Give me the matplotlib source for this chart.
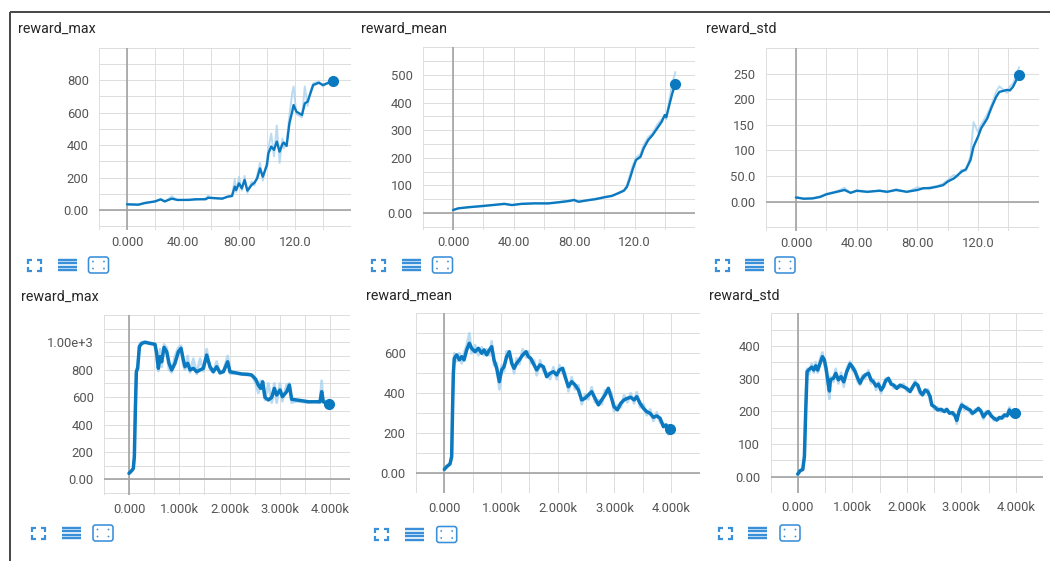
import matplotlib
matplotlib.use("Agg")
import matplotlib.pyplot as plt
from matplotlib.patches import FancyBboxPatch, Circle

# ---------------- data ----------------
# top row: steps 0..147
p1_x = [0, 8, 13, 20, 24, 27, 32, 36, 44, 49, 56, 58, 61, 68, 72, 75, 77, 78, 80, 82,
        84, 86, 89, 91, 93, 95, 97, 100, 101, 103, 105, 107, 109, 111, 112, 114, 116, 118, 119, 121,
        125, 127, 129, 131, 133, 137, 140, 144, 147]
p1_smooth = [35, 33, 43, 53, 65, 53, 70, 62, 62, 66, 66, 75, 74, 70, 82, 86, 144, 123, 164, 133,
             185, 119, 154, 168, 195, 256, 205, 277, 349, 390, 370, 421, 359, 406, 415, 394, 533, 605, 646, 605,
             585, 656, 667, 718, 769, 783, 769, 783, 791]
p1_raw = [35, 30, 46, 50, 70, 50, 85, 60, 64, 63, 70, 88, 72, 68, 84, 90, 190, 110, 205, 120,
          210, 105, 175, 150, 215, 290, 180, 310, 380, 470, 330, 520, 290, 440, 380, 420, 580, 720, 760, 590,
          570, 760, 640, 730, 780, 790, 760, 790, 795]

p2_x = [0, 3.5, 10, 19, 28, 34, 39, 45, 54, 63, 70, 76, 80, 83, 90, 94, 100, 105, 109, 113,
        115, 117, 119, 121, 124, 126, 129, 132, 135, 138, 140, 141, 143, 145, 147]
p2_smooth = [11, 17, 21, 25, 30, 33, 29, 33, 35, 35, 39, 43, 47, 41, 47, 50, 57, 62, 71, 81,
             95, 126, 162, 192, 204, 234, 264, 283, 307, 331, 355, 347, 391, 434, 467]
p2_raw = [10, 18, 20, 27, 29, 35, 28, 34, 36, 34, 40, 45, 49, 40, 48, 52, 58, 63, 73, 84,
          100, 140, 175, 200, 215, 245, 275, 290, 320, 340, 350, 340, 410, 470, 510]

p3_x = [0, 5, 11, 16, 20, 27, 32, 36, 40, 47, 55, 60, 66, 73, 80, 84, 88, 93, 97, 100,
        104, 106, 109, 112, 115, 117, 120, 122, 126, 129, 132, 134, 139, 141, 143, 147]
p3_smooth = [8, 5.5, 6, 9, 14, 19, 22.5, 17, 21, 19, 21, 19, 22.5, 19, 22.5, 26, 26, 29, 32, 39,
             45, 50, 58, 63, 81, 107, 127, 143, 162, 185, 205, 214, 218, 217, 224, 248]
p3_raw = [9, 5, 7, 10, 15, 20, 27, 16, 22, 18, 22, 18, 24, 18, 28, 25, 28, 30, 35, 42,
          52, 48, 62, 60, 90, 155, 135, 150, 170, 190, 215, 225, 212, 225, 230, 262]

# bottom row: steps 0..4000
p4_x = [0, 53, 86, 106, 126, 146, 172, 206, 252, 318, 418, 517, 550, 584, 617, 650, 697, 750, 796, 849,
        915, 982, 1035, 1081, 1114, 1167, 1214, 1280, 1347, 1413, 1479, 1545, 1612, 1678, 1744, 1811, 1877, 1963, 2010, 2109,
        2242, 2375, 2441, 2474, 2521, 2574, 2620, 2660, 2707, 2773, 2840, 2892, 2939, 3005, 3052, 3138, 3191, 3237, 3337, 3436,
        3569, 3702, 3801, 3834, 3867, 3967, 3990]
p4_smooth = [44, 63, 80, 165, 506, 785, 810, 968, 992, 1000, 992, 985, 920, 810, 895, 858, 963, 931, 847, 798,
             847, 931, 956, 871, 822, 847, 798, 810, 785, 798, 810, 907, 822, 785, 822, 778, 785, 858, 785, 778,
             769, 766, 761, 749, 730, 688, 664, 712, 598, 579, 598, 664, 615, 652, 603, 640, 688, 584, 579, 574,
             566, 566, 566, 640, 566, 555, 550]
p4_raw = [40, 65, 78, 180, 560, 800, 830, 985, 1000, 1005, 995, 990, 880, 790, 950, 820, 985, 960, 800, 780,
          900, 960, 975, 830, 800, 900, 780, 880, 770, 880, 790, 950, 800, 780, 860, 770, 790, 900, 770, 775,
          765, 760, 758, 740, 700, 630, 720, 660, 580, 700, 560, 700, 560, 700, 570, 690, 700, 560, 570, 565,
          560, 570, 560, 720, 560, 550, 545]

p5_x = [0, 41, 100, 129, 147, 159, 176, 217, 264, 306, 347, 394, 441, 482, 541, 600, 659, 700, 747, 794,
        835, 876, 923, 970, 1011, 1052, 1099, 1146, 1188, 1229, 1276, 1323, 1382, 1441, 1482, 1523, 1582, 1629, 1688, 1746,
        1805, 1864, 1923, 1982, 2029, 2087, 2129, 2188, 2246, 2305, 2364, 2423, 2481, 2540, 2599, 2658, 2717, 2775, 2834, 2893,
        2940, 2993, 3052, 3111, 3170, 3228, 3287, 3346, 3393, 3452, 3511, 3570, 3628, 3687, 3746, 3805, 3864, 3911, 3952, 3981]
p5_smooth = [20, 33, 47, 83, 350, 500, 575, 592, 567, 583, 567, 617, 650, 625, 608, 625, 600, 617, 592, 617,
             633, 567, 525, 458, 517, 533, 583, 608, 550, 525, 550, 567, 592, 608, 583, 575, 542, 517, 542, 533,
             483, 500, 508, 492, 517, 525, 483, 433, 458, 442, 417, 367, 375, 392, 408, 375, 342, 367, 392, 425,
             383, 333, 317, 350, 367, 375, 380, 367, 383, 350, 325, 308, 300, 280, 287, 275, 233, 242, 213, 220]
p5_raw = [18, 35, 45, 90, 380, 520, 600, 560, 600, 550, 600, 640, 700, 600, 640, 590, 630, 590, 620, 590,
          660, 540, 550, 420, 540, 510, 610, 580, 570, 500, 575, 545, 620, 580, 610, 550, 565, 490, 565, 510,
          505, 470, 530, 470, 540, 500, 505, 410, 480, 420, 440, 345, 395, 370, 430, 355, 365, 345, 415, 400,
          405, 310, 340, 330, 390, 355, 400, 350, 405, 330, 345, 290, 320, 262, 305, 255, 250, 225, 195, 225]

p6_x = [0, 43, 92, 122, 147, 171, 208, 257, 294, 330, 367, 410, 453, 489, 520, 550, 581, 599, 654, 697,
        746, 795, 844, 899, 960, 1003, 1052, 1101, 1144, 1187, 1236, 1297, 1346, 1389, 1438, 1480, 1529, 1572, 1615, 1664,
        1713, 1762, 1817, 1878, 1939, 2000, 2061, 2110, 2153, 2202, 2245, 2288, 2337, 2386, 2429, 2459, 2508, 2569, 2630, 2691,
        2734, 2783, 2838, 2887, 2917, 2960, 3009, 3058, 3107, 3162, 3205, 3254, 3315, 3364, 3407, 3456, 3499, 3548, 3597, 3652,
        3701, 3744, 3793, 3842, 3885, 3915, 3958, 3990]
p6_smooth = [8, 18, 22, 61, 204, 321, 328, 335, 326, 339, 326, 347, 367, 357, 331, 296, 262, 296, 301, 316,
             296, 306, 290, 321, 345, 336, 321, 301, 286, 301, 311, 316, 296, 290, 277, 283, 265, 275, 294, 301,
             283, 280, 270, 280, 275, 270, 260, 275, 286, 280, 260, 250, 265, 260, 245, 219, 214, 204, 206, 199,
             206, 194, 196, 186, 172, 199, 219, 214, 208, 204, 194, 199, 209, 199, 183, 194, 199, 186, 179, 173,
             181, 179, 189, 186, 204, 191, 199, 195]
p6_raw = [7, 20, 21, 70, 230, 330, 315, 345, 318, 350, 318, 360, 380, 345, 320, 280, 238, 305, 290, 330,
          285, 318, 275, 330, 352, 325, 330, 290, 280, 310, 300, 325, 285, 298, 265, 290, 255, 282, 300, 292,
          290, 270, 278, 272, 284, 262, 268, 268, 294, 272, 252, 258, 255, 268, 232, 225, 205, 212, 198, 205,
          198, 200, 188, 192, 162, 205, 225, 205, 215, 196, 190, 206, 202, 205, 176, 200, 192, 193, 172, 180,
          175, 186, 182, 192, 212, 186, 205, 190]

titles = ["reward_max", "reward_mean", "reward_std", "reward_max", "reward_mean", "reward_std"]

top_x_ticks = [0, 40, 80, 120]
top_x_labels = ["0.000", "40.00", "80.00", "120.0"]
bottom_x_ticks = [0, 1000, 2000, 3000, 4000]
bottom_x_labels = ["0.000", "1.000k", "2.000k", "3.000k", "4.000k"]

p1_y_ticks = [0, 200, 400, 600, 800]
p1_y_labels = ["0.00", "200", "400", "600", "800"]
p2_y_ticks = [0, 100, 200, 300, 400, 500]
p2_y_labels = ["0.00", "100", "200", "300", "400", "500"]
p3_y_ticks = [0, 50, 100, 150, 200, 250]
p3_y_labels = ["0.00", "50.0", "100", "150", "200", "250"]
p4_y_ticks = [0, 200, 400, 600, 800, 1000]
p4_y_labels = ["0.00", "200", "400", "600", "800", "1.00e+3"]
p5_y_ticks = [0, 200, 400, 600]
p5_y_labels = ["0.00", "200", "400", "600"]
p6_y_ticks = [0, 100, 200, 300, 400]
p6_y_labels = ["0.00", "100", "200", "300", "400"]

# ---------------- styling ----------------
W, H = 1050, 561
FONT = "Roboto"
LINE = "#0b79bf"
RAW = "#9fcdee"
GRID = "#dedede"
ZERO = "#a0a0a0"
TICK_TXT = "#555555"
TITLE_TXT = "#262626"
ICON = "#3a8fd9"

fig = plt.figure(figsize=(W / 100, H / 100), dpi=100)
fig.patch.set_facecolor("white")

# full-figure pixel canvas for frame, titles and toolbar icons
bg = fig.add_axes([0, 0, 1, 1], zorder=-1)
bg.set_xlim(0, W)
bg.set_ylim(H, 0)
bg.axis("off")

PT = 0.72  # points per pixel at 100 dpi

bg.plot([10, W], [11.5, 11.5], color="#4a4a4a", lw=2 * PT, solid_capstyle="butt")
bg.plot([10, 10], [11.5, H], color="#4a4a4a", lw=2 * PT, solid_capstyle="butt")


def px_axes(x0, x1, y0, y1):
    return fig.add_axes([x0 / W, 1 - y1 / H, (x1 - x0) / W, (y1 - y0) / H])


def icon_fullscreen(cx, cy):
    w, h, arm = 13, 11, 4
    for sx in (-1, 1):
        for sy in (-1, 1):
            x, y = cx + sx * w / 2, cy + sy * h / 2
            bg.plot([x - sx * arm, x, x], [y, y, y - sy * arm], color=ICON,
                    lw=2.2 * PT, solid_capstyle="butt", solid_joinstyle="miter")


def icon_list(cx, cy):
    for dy in (-5.4, -1.8, 1.8, 5.4):
        bg.plot([cx - 9.5, cx + 9.5], [cy + dy, cy + dy], color=ICON,
                lw=2.4 * PT, solid_capstyle="butt")


def icon_box(cx, cy):
    w, h = 20, 16
    bg.add_patch(FancyBboxPatch((cx - w / 2, cy - h / 2), w, h,
                                boxstyle="round,pad=0,rounding_size=2.5",
                                fill=False, ec=ICON, lw=1.6 * PT))
    for dx, dy in ((-5.5, -3.5), (5.5, -3.5), (-5.5, 3.5), (5.5, 3.5)):
        bg.add_patch(Circle((cx + dx, cy + dy), 0.9, color=ICON, lw=0))


panels = [
    dict(box=(99, 351, 47.5, 229.5), xlim=(-20, 160), ylim=(-120, 1000),
         xgrid=list(range(-20, 161, 20)), ygrid=list(range(-100, 1001, 100)),
         xt=top_x_ticks, xl=top_x_labels, yt=p1_y_ticks, yl=p1_y_labels,
         x=p1_x, s=p1_smooth, r=p1_raw, tpos=(18, 28.5), xpad=4.6,
         icons=((34.5, 67, 98.5), 265)),
    dict(box=(422.8, 695, 47.4, 229.6), xlim=(-20, 160), ylim=(-60, 600),
         xgrid=list(range(-20, 161, 20)), ygrid=list(range(-50, 601, 50)),
         xt=top_x_ticks, xl=top_x_labels, yt=p2_y_ticks, yl=p2_y_labels,
         x=p2_x, s=p2_smooth, r=p2_raw, tpos=(361.5, 28.5), xpad=4.6,
         icons=((378, 411, 442.5), 265)),
    dict(box=(765.6, 1038.8, 47.9, 230.7), xlim=(-20, 160), ylim=(-57, 300),
         xgrid=list(range(-20, 161, 20)), ygrid=list(range(-50, 301, 50)),
         xt=top_x_ticks, xl=top_x_labels, yt=p3_y_ticks, yl=p3_y_labels,
         x=p3_x, s=p3_smooth, r=p3_raw, tpos=(706, 28.5), xpad=4.6,
         icons=((722, 754, 785), 265)),
    dict(box=(103.9, 350.1, 314.9, 495.1), xlim=(-500, 4400), ylim=(-115, 1200),
         xgrid=list(range(-500, 4401, 500)), ygrid=list(range(-100, 1201, 100)),
         xt=bottom_x_ticks, xl=bottom_x_labels, yt=p4_y_ticks, yl=p4_y_labels,
         x=p4_x, s=p4_smooth, r=p4_raw, tpos=(21.5, 296.5), xpad=6.0,
         icons=((38.3, 71, 103), 533)),
    dict(box=(416, 699.5, 313.3, 493.3), xlim=(-500, 4500), ylim=(-100, 800),
         xgrid=list(range(-500, 4501, 500)), ygrid=list(range(-100, 801, 100)),
         xt=bottom_x_ticks, xl=bottom_x_labels, yt=p5_y_ticks, yl=p5_y_labels,
         x=p5_x, s=p5_smooth, r=p5_raw, tpos=(366, 295.5), xpad=6.0,
         icons=((381.7, 414, 446.7), 534.5)),
    dict(box=(770.5, 1043, 313.2, 493), xlim=(-500, 4500), ylim=(-50, 500),
         xgrid=list(range(-500, 4501, 500)), ygrid=list(range(-50, 501, 50)),
         xt=bottom_x_ticks, xl=bottom_x_labels, yt=p6_y_ticks, yl=p6_y_labels,
         x=p6_x, s=p6_smooth, r=p6_raw, tpos=(709, 295.5), xpad=6.0,
         icons=((725, 757.5, 790), 533)),
]

for i, p in enumerate(panels):
    ax = px_axes(*p["box"])
    ax.set_facecolor("none")
    ax.set_xlim(*p["xlim"])
    ax.set_ylim(*p["ylim"])
    for s in ax.spines.values():
        s.set_visible(False)

    for gx in p["xgrid"]:
        ax.axvline(gx, color=GRID, lw=1.0 * PT, zorder=1)
    for gy in p["ygrid"]:
        ax.axhline(gy, color=GRID, lw=1.0 * PT, zorder=1)
    ax.axvline(0, color=ZERO, lw=1.6 * PT, zorder=2)
    ax.axhline(0, color=ZERO, lw=1.6 * PT, zorder=2)

    ax.set_xticks(p["xt"], labels=p["xl"])
    ax.set_yticks(p["yt"], labels=p["yl"])
    ax.tick_params(axis="both", length=0, labelsize=9.4, labelcolor=TICK_TXT)
    ax.tick_params(axis="x", pad=p["xpad"])
    ax.tick_params(axis="y", pad=7.4)
    for lab in ax.get_xticklabels() + ax.get_yticklabels():
        lab.set_fontfamily(FONT)

    bottom_row = i >= 3
    ax.plot(p["x"], p["r"], color=RAW, lw=2.0 if bottom_row else 1.4,
            alpha=0.7, zorder=3, solid_joinstyle="round")
    ax.plot(p["x"], p["s"], color=LINE, lw=2.5 if bottom_row else 1.7, zorder=4,
            solid_joinstyle="round", solid_capstyle="round")
    ax.plot(p["x"][-1:], p["s"][-1:], "o", color=LINE, ms=7.0, zorder=5,
            clip_on=False)

    bg.text(p["tpos"][0], p["tpos"][1], titles[i], ha="left", va="center",
            fontsize=10.3, color=TITLE_TXT, family=FONT)

    (ix1, ix2, ix3), iy = p["icons"]
    icon_fullscreen(ix1, iy)
    icon_list(ix2, iy)
    icon_box(ix3, iy)

fig.savefig("out.png", dpi=100, facecolor="white")
